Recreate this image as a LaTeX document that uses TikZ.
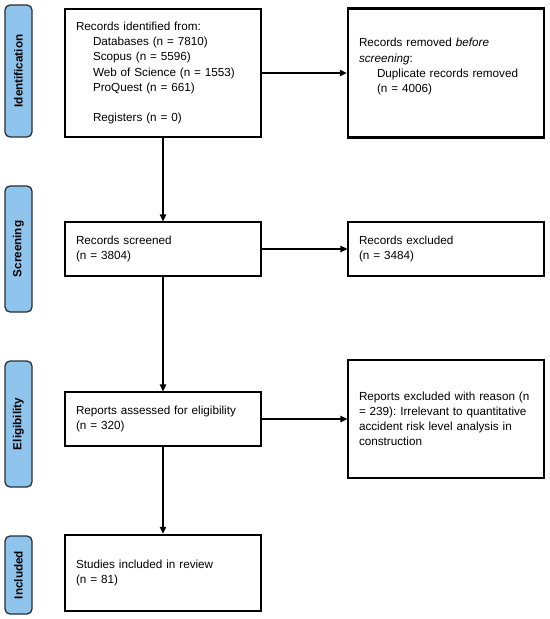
\documentclass[tikz,border=0pt]{standalone}
\usepackage{fontspec}
\setmainfont{Liberation Sans}
\usetikzlibrary{arrows.meta}
\definecolor{barblue}{RGB}{143,196,236}
\definecolor{bardraw}{RGB}{40,48,56}
\frenchspacing
\begin{document}
\begin{tikzpicture}[x=1bp,y=-1bp,
  font=\fontsize{11.7bp}{15.2bp}\selectfont,
  boxn/.style={draw=black, line width=1.3bp, rectangle, minimum width=196bp,
    text width=174bp, inner xsep=11bp, inner ysep=0pt, align=left, text=black},
  thickbox/.style={boxn, line width=2.4bp},
  phase/.style={draw=bardraw, fill=barblue, line width=1.3bp, rounded corners=5bp,
    rotate=90, minimum height=27bp, inner sep=0pt, font=\fontsize{11.7bp}{14bp}\selectfont\bfseries},
  conn/.style={line width=1.3bp, -{Triangle[length=7bp,width=6.5bp]}}
]
\useasboundingbox (0,0) rectangle (550,619);

% phase bars
\node[phase, minimum width=132bp] (pid) at (18.5,71) {Identification};
\node[phase, minimum width=126bp] (psc) at (18.5,249) {Screening};
\node[phase, minimum width=126bp] (pel) at (18.5,424) {Eligibility};
\node[phase, minimum width=78bp] (pin) at (18.5,575) {Included};

% boxes
\node[boxn, minimum height=128bp] (b1) at (163,73) {Records identified from:\\
\hspace*{17bp}Databases (n = 7810)\\
\hspace*{17bp}Scopus (n = 5596)\\
\hspace*{17bp}Web of Science (n = 1553)\\
\hspace*{17bp}ProQuest (n = 661)\\[15.2bp]
\hspace*{17bp}Registers (n = 0)};

\node[thickbox, minimum height=129bp] (b2) at (446,73) {Records removed \textit{before}\\
\textit{screening}:\\
\hspace*{18bp}Duplicate records removed\\
\hspace*{18bp}(n = 4006)\\ \mbox{}};

\node[boxn, minimum height=54bp] (b3) at (163,249) {Records screened\\(n = 3804)};
\node[boxn, minimum height=54bp] (b4) at (446,249) {Records excluded\\(n = 3484)};

\node[boxn, minimum height=54bp] (b5) at (163,419) {Reports assessed for eligibility\\(n = 320)};
\node[boxn, minimum height=118bp] (b6) at (446,419) {Reports excluded with reason (n\\
= 239): Irrelevant to quantitative\\
accident risk level analysis in\\
construction};

\node[thickbox, minimum height=76bp] (b7) at (163,573) {Studies included in review\\(n = 81)};

% connectors
\draw[conn] (b1.east) -- (b2.west);
\draw[conn] (b1.south) -- (b3.north);
\draw[conn] (b3.east) -- (b4.west);
\draw[conn] (b3.south) -- (b5.north);
\draw[conn] (b5.east) -- (b6.west);
\draw[conn] (b5.south) -- (b7.north);
\end{tikzpicture}
\end{document}
